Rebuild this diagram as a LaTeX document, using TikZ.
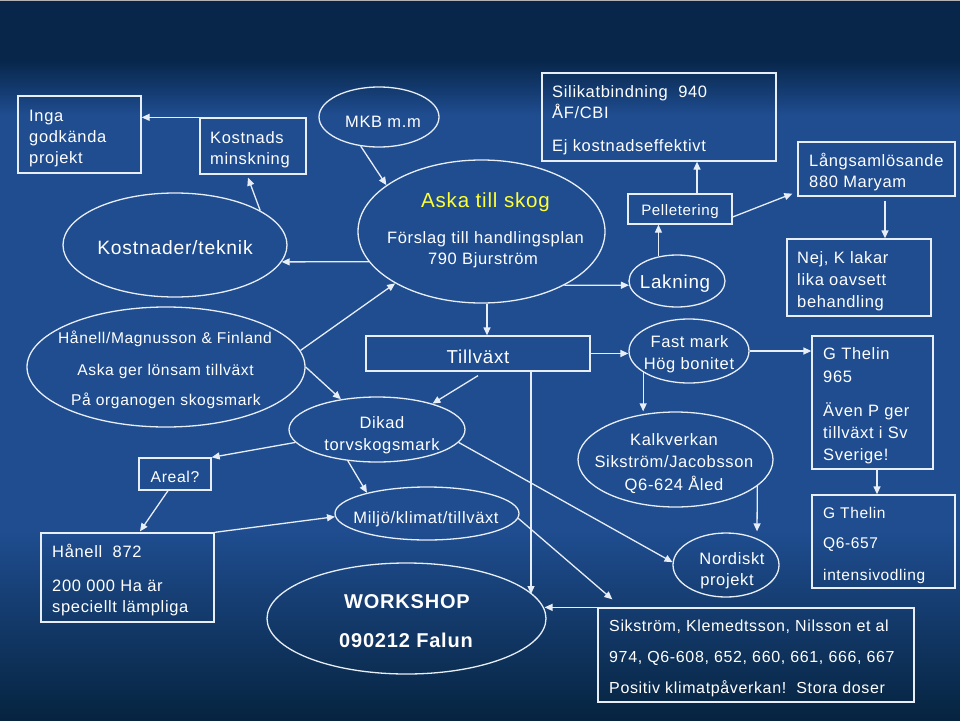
\documentclass[tikz,border=0pt]{standalone}
\usepackage{fontspec}
\setmainfont{Liberation Sans}[LetterSpace=4]
\usetikzlibrary{arrows.meta,shapes.geometric}
\definecolor{bgtop}{RGB}{7,38,74}
\definecolor{bgmid}{RGB}{31,77,144}
\definecolor{bgbot}{RGB}{6,36,64}
\definecolor{linec}{RGB}{232,238,246}
\definecolor{askay}{RGB}{255,255,51}
\newcommand\fsz[1]{\fontsize{#1}{#1}\selectfont}
\tikzset{
  shp/.style={draw=linec, line width=1.3pt, inner sep=0pt},
  bx/.style={shp, rectangle},
  el/.style={shp, ellipse},
  arr/.style={draw=linec, line width=1.3pt, -{Triangle[length=8pt,width=7pt]}},
  txt/.style={text=white, inner sep=0pt, font=\fsz{16.5}},
  tl/.style={txt, anchor=base west},
  tc/.style={txt, anchor=base},
}
\begin{document}
\begin{tikzpicture}[x=1pt,y=-1pt]
\useasboundingbox (0,0) rectangle (960,720);
% background
\fill[bgtop] (0,0) rectangle (960,60);
\shade[top color=bgtop, bottom color=bgmid] (0,60) rectangle (960,115);
\fill[bgmid] (0,115) rectangle (960,530);
\shade[top color=bgmid, bottom color=bgbot] (0,530) rectangle (960,720);
\draw[gray!60, line width=1pt] (0,0.5) -- (960,0.5);

% boxes
\node[bx, minimum width=123pt, minimum height=77pt] (k1) at (79.5,134.5) {};
\node[bx, minimum width=106pt, minimum height=56pt] (k2) at (253,146) {};
\node[bx, minimum width=234pt, minimum height=88pt] (sil) at (659,117) {};
\node[bx, minimum width=104pt, minimum height=30pt] (pel) at (680,209) {};
\node[bx, minimum width=157pt, minimum height=54pt] (lang) at (876.5,169) {};
\node[bx, minimum width=144pt, minimum height=77pt] (nej) at (859,277.5) {};
\node[bx, minimum width=224pt, minimum height=35pt] (till) at (478,353.5) {};
\node[bx, minimum width=72pt, minimum height=32pt] (are) at (175,474) {};
\node[bx, minimum width=173pt, minimum height=89pt] (h8) at (127.5,577.5) {};
\node[bx, minimum width=121pt, minimum height=133pt] (gt1) at (872.5,402.5) {};
\node[bx, minimum width=143pt, minimum height=93pt] (gt2) at (883.5,541.5) {};
\node[bx, minimum width=316pt, minimum height=94pt] (sik) at (756,655) {};

% ellipses
\node[el, minimum width=224pt, minimum height=104pt] (e1) at (175,245) {};
\node[el, minimum width=120pt, minimum height=60pt] (mkb) at (379,117) {};
\node[el, minimum width=247pt, minimum height=143pt] (aska) at (481.5,231.5) {};
\node[el, minimum width=96pt, minimum height=52pt] (lak) at (677,281) {};
\node[el, minimum width=278pt, minimum height=120pt] (hel) at (166,367) {};
\node[el, minimum width=176pt, minimum height=65pt] (dik) at (377,429.5) {};
\node[el, minimum width=184pt, minimum height=53pt] (mil) at (427,513.5) {};
\node[el, minimum width=279pt, minimum height=111pt] (ws) at (406.5,618.5) {};
\node[el, minimum width=120pt, minimum height=64pt] (fm) at (689,351) {};
\node[el, minimum width=195pt, minimum height=95pt] (kal) at (675.5,459.5) {};
\node[el, minimum width=106pt, minimum height=64pt] (nor) at (726,565) {};

% texts
\node[tl] (t1a) at (29,121) {Inga};
\node[tl] (t1b) at (29,142) {godkända};
\node[tl] (t1c) at (29,163) {projekt};
\node[tl] (t2a) at (210,143) {Kostnads};
\node[tl] (t2b) at (210,164) {minskning};
\node[tc, font=\fsz{19.3}] (t3) at (175,254) {Kostnader/teknik};
\node[tc] (t4) at (383,127) {MKB m.m};
\node[tc, text=askay, font=\fsz{20.5}] (t5a) at (485.5,207) {Aska till skog};
\node[tc] (t5b) at (485.5,243) {Förslag till handlingsplan};
\node[tc] (t5c) at (483,264) {790 Bjurström};
\node[tl] (t6a) at (552,97) {Silikatbindning\ \ 940};
\node[tl] (t6b) at (552,118) {ÅF/CBI};
\node[tl] (t6c) at (552,151) {Ej kostnadseffektivt};
\node[tc, font=\fsz{15.1}] (t7) at (680,215) {Pelletering};
\node[tl] (t8a) at (809,166) {Långsamlösande};
\node[tl] (t8b) at (809,187) {880 Maryam};
\node[tl] (t9a) at (797,263) {Nej, K lakar};
\node[tl] (t9b) at (797,285) {lika oavsett};
\node[tl] (t9c) at (797,307) {behandling};
\node[tc, font=\fsz{18.8}] (t10) at (675,288) {Lakning};
\node[tc, font=\fsz{15.6}] (t11a) at (165,343) {Hånell/Magnusson \& Finland};
\node[tc, font=\fsz{15.6}] (t11b) at (165.5,375) {Aska ger lönsam tillväxt};
\node[tc, font=\fsz{15.6}] (t11c) at (166,405) {På organogen skogsmark};
\node[tc, font=\fsz{15.7}] (t12) at (175,482) {Areal?};
\node[tl] (t13a) at (52,557) {Hånell\ \ 872};
\node[tl] (t13b) at (52,591) {200 000 Ha är};
\node[tl] (t13c) at (52,612) {speciellt lämpliga};
\node[tc] (t14a) at (382,428) {Dikad};
\node[tc] (t14b) at (382,450) {torvskogsmark};
\node[tc, font=\fsz{18.7}] (t15) at (478,363) {Tillväxt};
\node[tc] (t16) at (426,523) {Miljö/klimat/tillväxt};
\node[tc, font=\bfseries\fsz{20}] (t17a) at (407,608) {WORKSHOP};
\node[tc, font=\bfseries\fsz{20}] (t17b) at (406,647) {090212 Falun};
\node[tc] (t18a) at (689.5,347) {Fast mark};
\node[tc] (t18b) at (689,369) {Hög bonitet};
\node[tl] (t19a) at (823,359) {G Thelin};
\node[tl] (t19b) at (823,382) {965};
\node[tl] (t19c) at (823,416) {Även P ger};
\node[tl] (t19d) at (823,438) {tillväxt i Sv};
\node[tl] (t19e) at (823,460) {Sverige!};
\node[tc] (t20a) at (674,445) {Kalkverkan};
\node[tc] (t20b) at (674,467) {Sikström/Jacobsson};
\node[tc] (t20c) at (674,490) {Q6-624 Åled};
\node[tl, font=\fsz{15.5}] (t21a) at (823,518) {G Thelin};
\node[tl, font=\fsz{15.5}] (t21b) at (823,548) {Q6-657};
\node[tl, font=\fsz{15.5}] (t21c) at (823,580) {intensivodling};
\node[tc] (t22a) at (732,564) {Nordiskt};
\node[tc] (t22b) at (727,585) {projekt};
\node[tl, font=\fsz{16}] (t23a) at (609,631) {Sikström, Klemedtsson, Nilsson et al};
\node[tl, font=\fsz{16}] (t23b) at (609,662) {974, Q6-608, 652, 660, 661, 666, 667};
\node[tl, font=\fsz{16}] (t23c) at (609,693) {Positiv klimatpåverkan!\ \ Stora doser};

% connectors
\draw[arr] (k2.north west) -- (k2.north west -| k1.east);
\draw[arr] (e1.22) -- ([xshift=-5pt,yshift=-3pt]k2.south);
\draw[arr] (aska.195) -- (e1.-9);
\draw[arr] (mkb.238) -- (aska.154);
\draw[arr] (hel.7) -- (aska.211);
\draw[arr] (aska.-33) -- (lak.185);
\draw[arr] (lak.127) -- (lak.127 |- pel.south);
\draw[arr] ([xshift=17pt]pel.north) -- ([xshift=17pt]pel.north |- sil.south);
\draw[arr] ([yshift=-8pt]pel.east) -- ([xshift=-5pt,yshift=3pt]lang.south west);
\draw[arr] ([xshift=8.5pt,yshift=-4pt]lang.south) -- ([xshift=8.5pt]lang.south |- nej.north);
\draw[arr] ([xshift=5.5pt]aska.south) -- ([xshift=5.5pt]aska.south |- till.north);
\draw[arr] (hel.east) -- (dik.140);
\draw[arr] ([yshift=-4pt]till.south) -- (dik.25);
\draw[arr] (dik.189) -- (are.north east);
\draw[arr] ([xshift=-7pt]are.south) -- ([xshift=12.5pt,yshift=1pt]h8.north);
\draw[arr] (h8.north east) -- (mil.182);
\draw[arr] (dik.227) -- (mil.161);
\draw[arr] ([xshift=53pt]till.south) -- ([xshift=53pt]till.south |- ws.11);
\draw[arr] (sik.north west) -- (sik.north west -| ws.4);
\draw[arr] (mil.-3) -- ([xshift=15pt,yshift=8pt]sik.north west);
\draw[arr] (dik.-9) -- (nor.177);
\draw[arr] (kal.-18) -- ([xshift=31pt,yshift=1pt]nor.north);
\draw[arr] (fm.205) -- (fm.205 |- kal.north);
\draw[arr] (till.east) -- (till.east -| fm.west);
\draw[arr] (fm.east) -- (fm.east -| gt1.west);
\draw[arr] ([xshift=4.5pt]gt1.south) -- ([xshift=4.5pt]gt1.south |- gt2.north);
\end{tikzpicture}
\end{document}
